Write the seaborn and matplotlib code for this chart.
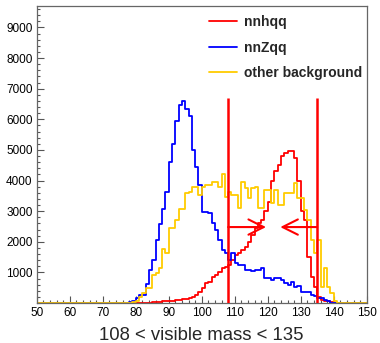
"""Visible mass distributions for nnhqq, nnZqq and other background, with the mass window cut."""
import numpy as np
import pandas as pd
import matplotlib
matplotlib.use("Agg")
import matplotlib.pyplot as plt
from matplotlib.lines import Line2D
from matplotlib.ticker import MultipleLocator
import seaborn as sns

# 1 GeV bins from 50 to 150
bin_edges = np.arange(50, 151, 1)

# nnhqq (signal), first bin at 84 GeV
sig_start = 84
sig_counts = [10, 20, 30, 40, 50, 60, 70, 80, 90, 100, 120, 130, 150, 200,
              260, 370, 480, 640, 700, 860, 920, 1020, 1130, 1190, 1250, 1400,
              1570, 1630, 1730, 1840, 2000, 2220, 2450, 2600, 2700, 3000, 3300,
              4000, 4300, 4500, 4800, 4900, 4950, 4950, 4730, 4000, 3000, 2710,
              1510, 860, 530, 200, 100, 60, 50, 30, 10]

# nnZqq, first bin at 78 GeV
zqq_start = 78
zqq_counts = [30, 80, 160, 260, 260, 610, 1080, 1400, 2060, 2570, 3060, 3640,
              4620, 5190, 5950, 6470, 6610, 6340, 6110, 5000, 4450, 3850, 2980,
              2980, 2950, 2600, 2390, 2060, 1730, 1630, 1400, 1630, 1300, 1250,
              1250, 1090, 1090, 1050, 1090, 1090, 1140, 820, 820, 760, 820, 820,
              760, 650, 590, 700, 530, 560, 370, 370, 370, 260, 230, 160, 160,
              100, 50, 10]

# other background, first bin at 79 GeV
bkg_start = 79
bkg_counts = [20, 70, 200, 340, 480, 480, 920, 970, 1130, 1760, 1640, 2440,
              2440, 2710, 3060, 3060, 3600, 3640, 3800, 3800, 3530, 3800, 3860,
              3860, 3960, 3960, 3800, 4220, 3470, 3640, 3530, 3530, 3090, 3960,
              3750, 3420, 3750, 3800, 3090, 3090, 3690, 3690, 3260, 3690, 3200,
              3200, 3580, 3580, 3580, 3910, 3420, 3420, 3040, 2710, 2060, 1620,
              2060, 530, 1140, 530, 330, 60, 10, 10, 10, 10, 10, 10, 10, 10, 10]

labels = ["nnhqq", "nnZqq", "other background"]
colors = ["#ff0000", "#0000ff", "#ffcc00"]

cut_low, cut_high = 108, 135
cut_line_top = 6700
arrow_y = 2480
arrow_tip_low, arrow_tip_high = 119.5, 123.8


def full_hist(start, counts):
    vals = np.zeros(len(bin_edges) - 1)
    i0 = start - bin_edges[0]
    vals[i0:i0 + len(counts)] = counts
    return vals


centers = bin_edges[:-1] + 0.5
df = pd.DataFrame({
    "mass": np.tile(centers, 3),
    "events": np.concatenate([full_hist(sig_start, sig_counts),
                              full_hist(zqq_start, zqq_counts),
                              full_hist(bkg_start, bkg_counts)]),
    "sample": np.repeat(labels, len(centers)),
})

sns.set_style("white")
plt.rcParams["font.family"] = ["Liberation Sans", "DejaVu Sans"]

fig = plt.figure(figsize=(3.8, 3.43), dpi=100)
ax = fig.add_axes([0.0966, 0.1166, 0.8684, 0.866])

for lab, col in zip(labels, colors):
    sub = df[df["sample"] == lab].reset_index(drop=True)
    sns.histplot(data=sub, x="mass", weights="events", binwidth=1,
                 binrange=(50, 150), element="step", fill=False,
                 color=col, linewidth=1.3, ax=ax)

# mass window
ax.vlines([cut_low, cut_high], 0, cut_line_top, color="#ff0000", linewidth=1.8, zorder=5)
for x0, x1 in [(cut_low, arrow_tip_low), (cut_high, arrow_tip_high)]:
    ax.annotate("", xy=(x1, arrow_y), xytext=(x0, arrow_y),
                arrowprops=dict(arrowstyle="->,head_length=1.1,head_width=0.55",
                                color="#ff0000", lw=1.5, mutation_scale=10,
                                shrinkA=0, shrinkB=0), zorder=5)

ax.set_xlim(50, 150)
ax.set_ylim(0, 9700)
ax.xaxis.set_major_locator(MultipleLocator(10))
ax.xaxis.set_minor_locator(MultipleLocator(2))
ax.yaxis.set_minor_locator(MultipleLocator(200))
ax.set_yticks(np.arange(1000, 9001, 1000))
ax.tick_params(which="both", direction="in", bottom=True, left=True,
               top=False, right=False, colors="#555555", labelcolor="black",
               labelsize=8.5, pad=3)
ax.tick_params(which="major", length=5, width=0.8)
ax.tick_params(which="minor", length=2.5, width=0.8)
for s in ax.spines.values():
    s.set_color("#666666")
    s.set_linewidth(0.9)

ax.set_ylabel("")
ax.set_xlabel("108 < visible mass < 135", fontsize=13.3)
ax.xaxis.set_label_coords(0.5, -0.08)

handles = [Line2D([], [], color=c, linewidth=1.3) for c in colors]
ax.legend(handles, labels, loc="upper left", bbox_to_anchor=(0.5, 0.992),
          frameon=False, prop={"weight": "bold", "size": 10},
          handlelength=2.05, handletextpad=0.5, labelspacing=0.82, borderpad=0)

fig.savefig("out.png", dpi=100)
